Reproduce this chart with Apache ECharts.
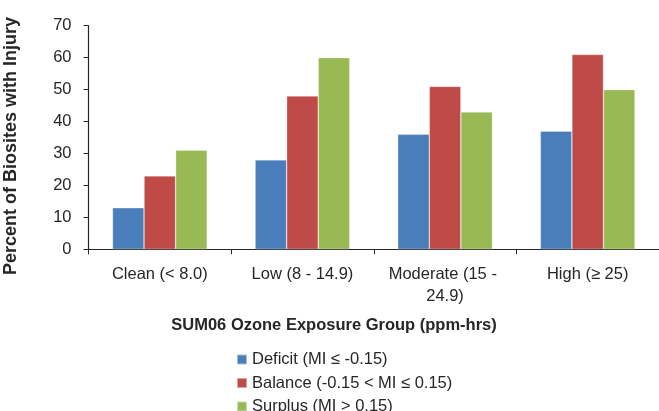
<!DOCTYPE html>
<html>
<head>
<meta charset="utf-8">
<script src="https://cdn.jsdelivr.net/npm/echarts@6/dist/echarts.min.js"></script>
<style>html,body{margin:0;padding:0;background:#fff}#c{width:659px;height:411px}</style>
</head>
<body>
<div id="c"></div>
<script>
var categories = ['Clean (< 8.0)', 'Low (8 - 14.9)', 'Moderate (15 - 24.9)', 'High (\u2265 25)'];
var seriesNames = ['Deficit (MI \u2264 -0.15)', 'Balance (-0.15 < MI \u2264 0.15)', 'Surplus (MI > 0.15)'];
var deficit = [13, 28, 36, 37];
var balance = [23, 48, 51, 61];
var surplus = [31, 60, 43, 50];
var yTicks = [0, 10, 20, 30, 40, 50, 60, 70];
var yTitle = 'Percent of Biosites with Injury';
var xTitle = 'SUM06 Ozone Exposure Group (ppm-hrs)';

var colors = ['#4A7EBB', '#BE4B48', '#98B954'];
var font = 'Liberation Sans, Arial, sans-serif';
var txt = '#262626';

var chart = echarts.init(document.getElementById('c'), null, {renderer: 'canvas'});
function mk(name, data, i) {
  return {
    name: name, type: 'bar', data: data,
    barGap: '0%', barCategoryGap: '33.6%',
    itemStyle: {color: colors[i], borderColor: 'rgba(255,255,255,0.5)', borderWidth: 0.6},
    emphasis: {disabled: true}
  };
}
chart.setOption({
  animation: false,
  textStyle: {fontFamily: font},
  grid: {left: 88.5, right: 0, top: 25.7, bottom: 161.7, containLabel: false},
  legend: {
    orient: 'vertical', left: 236, top: 351, height: 100, padding: 0,
    itemWidth: 10, itemHeight: 10, itemGap: 6.5,
    icon: 'rect',
    textStyle: {fontSize: 16.5, color: txt, fontFamily: font},
    data: seriesNames
  },
  xAxis: {
    type: 'category', data: categories,
    axisLine: {lineStyle: {color: '#262626', width: 1.2}},
    axisTick: {show: true, length: 5, lineStyle: {color: '#262626'}},
    axisLabel: {fontSize: 16.5, color: txt, margin: 14, width: 128, overflow: 'break', lineHeight: 22, interval: 0}
  },
  yAxis: {
    type: 'value', min: yTicks[0], max: yTicks[yTicks.length - 1], interval: 10,
    axisLine: {show: true, lineStyle: {color: '#262626', width: 1.2}},
    axisTick: {show: true, length: 5, lineStyle: {color: '#262626'}},
    splitLine: {show: false},
    axisLabel: {fontSize: 16.5, color: txt, margin: 17}
  },
  graphic: [
    {type: 'text', rotation: Math.PI / 2, x: 11, y: 146, style: {text: yTitle, font: 'bold 18px ' + font, fill: txt, align: 'center', verticalAlign: 'middle'}},
    {type: 'text', x: 334, y: 325, style: {text: xTitle, font: 'bold 16.5px ' + font, fill: txt, align: 'center', verticalAlign: 'middle'}}
  ],
  series: [mk(seriesNames[0], deficit, 0), mk(seriesNames[1], balance, 1), mk(seriesNames[2], surplus, 2)]
});
</script>
</body>
</html>
